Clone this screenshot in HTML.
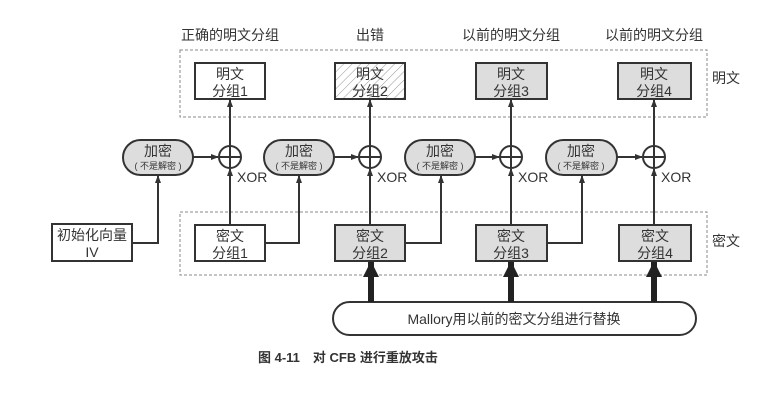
<!DOCTYPE html>
<html><head><meta charset="utf-8"><style>
body{margin:0;background:#fff}
svg text{font-family:"Liberation Sans","Noto Sans CJK SC",sans-serif;fill:#333}
</style></head><body>
<svg width="771" height="404" xmlns="http://www.w3.org/2000/svg">
<defs>
<marker id="a" markerWidth="8" markerHeight="8" refX="7" refY="4" orient="auto" markerUnits="userSpaceOnUse"><path d="M0,1 L8,4 L0,7z" fill="#333"/></marker>
<marker id="b" markerWidth="16" markerHeight="16" refX="15" refY="8" orient="auto" markerUnits="userSpaceOnUse"><path d="M0,0 L16,8 L0,16z" fill="#222"/></marker>
<pattern id="h" width="6" height="6" patternUnits="userSpaceOnUse" patternTransform="rotate(45)"><line x1="0" y1="0" x2="0" y2="6" stroke="#999" stroke-width="1"/></pattern>
</defs>
<g stroke="#888" stroke-dasharray="3,2" fill="none" stroke-width="1">
<rect x="180" y="50" width="527" height="67"/>
<rect x="180" y="212" width="527" height="63"/>
</g>
<g font-size="14" text-anchor="middle">
<text x="230" y="40">正确的明文分组</text>
<text x="370" y="40">出错</text>
<text x="511" y="40">以前的明文分组</text>
<text x="654" y="40">以前的明文分组</text>
</g>
<text x="712" y="83" font-size="14">明文</text>
<text x="712" y="246" font-size="14">密文</text>
<g stroke="#333" stroke-width="2">
<rect x="195" y="63" width="70" height="36" fill="#fff"/>
<rect x="335" y="63" width="70" height="36" fill="url(#h)"/>
<rect x="476" y="63" width="71" height="36" fill="#ddd"/>
<rect x="618" y="63" width="73" height="36" fill="#ddd"/>
<rect x="195" y="225" width="70" height="36" fill="#fff"/>
<rect x="335" y="225" width="70" height="36" fill="#ddd"/>
<rect x="476" y="225" width="71" height="36" fill="#ddd"/>
<rect x="619" y="225" width="72" height="36" fill="#ddd"/>
<rect x="52" y="224" width="80" height="37" fill="#fff"/>
<rect x="123" y="140" width="70" height="35" rx="17.5" fill="#ddd"/>
<rect x="264" y="140" width="70" height="35" rx="17.5" fill="#ddd"/>
<rect x="405" y="140" width="70" height="35" rx="17.5" fill="#ddd"/>
<rect x="546" y="140" width="71" height="35" rx="17.5" fill="#ddd"/>
<rect x="333" y="302" width="363" height="33" rx="16.5" fill="#fff"/>
</g>
<g stroke="#333" stroke-width="2" fill="none">
<circle cx="230" cy="157" r="11"/><line x1="219" y1="157" x2="241" y2="157"/><line x1="230" y1="146" x2="230" y2="168"/>
<circle cx="370" cy="157" r="11"/><line x1="359" y1="157" x2="381" y2="157"/><line x1="370" y1="146" x2="370" y2="168"/>
<circle cx="511" cy="157" r="11"/><line x1="500" y1="157" x2="522" y2="157"/><line x1="511" y1="146" x2="511" y2="168"/>
<circle cx="654" cy="157" r="11"/><line x1="643" y1="157" x2="665" y2="157"/><line x1="654" y1="146" x2="654" y2="168"/>
</g>
<g stroke="#333" stroke-width="2" fill="none" marker-end="url(#a)">
<line x1="193" y1="157" x2="218" y2="157"/><line x1="334" y1="157" x2="358" y2="157"/>
<line x1="475" y1="157" x2="499" y2="157"/><line x1="617" y1="157" x2="642" y2="157"/>
<line x1="230" y1="146" x2="230" y2="100"/><line x1="370" y1="146" x2="370" y2="100"/>
<line x1="511" y1="146" x2="511" y2="100"/><line x1="654" y1="146" x2="654" y2="100"/>
<line x1="230" y1="225" x2="230" y2="169"/><line x1="370" y1="225" x2="370" y2="169"/>
<line x1="511" y1="225" x2="511" y2="169"/><line x1="654" y1="225" x2="654" y2="169"/>
<polyline points="132,243 158,243 158,176"/>
<polyline points="265,243 299,243 299,176"/>
<polyline points="405,243 441,243 441,176"/>
<polyline points="547,243 582,243 582,176"/>
</g>
<g stroke="#222" stroke-width="6" marker-end="url(#b)">
<line x1="371" y1="302" x2="371" y2="262"/><line x1="511" y1="302" x2="511" y2="262"/><line x1="654" y1="302" x2="654" y2="262"/>
</g>
<g font-size="14" text-anchor="middle">
<text x="230" y="79">明文</text><text x="230" y="96">分组1</text>
<text x="370" y="79">明文</text><text x="370" y="96">分组2</text>
<text x="511" y="79">明文</text><text x="511" y="96">分组3</text>
<text x="654" y="79">明文</text><text x="654" y="96">分组4</text>
<text x="230" y="241">密文</text><text x="230" y="258">分组1</text>
<text x="370" y="241">密文</text><text x="370" y="258">分组2</text>
<text x="511" y="241">密文</text><text x="511" y="258">分组3</text>
<text x="655" y="241">密文</text><text x="655" y="258">分组4</text>
<text x="92" y="240">初始化向量</text><text x="92" y="257">IV</text>
<text x="158" y="156">加密</text><text x="299" y="156">加密</text><text x="440" y="156">加密</text><text x="581" y="156">加密</text>
<text x="514" y="324">Mallory用以前的密文分组进行替换</text>
</g>
<g font-size="9" text-anchor="middle">
<text x="158" y="169">( 不是解密 )</text><text x="299" y="169">( 不是解密 )</text><text x="440" y="169">( 不是解密 )</text><text x="581" y="169">( 不是解密 )</text>
</g>
<g font-size="14">
<text x="237" y="182">XOR</text><text x="377" y="182">XOR</text><text x="518" y="182">XOR</text><text x="661" y="182">XOR</text>
</g>
<text x="258" y="362" font-size="13" font-weight="bold">图 4-11　对 CFB 进行重放攻击</text>
</svg>
</body></html>
